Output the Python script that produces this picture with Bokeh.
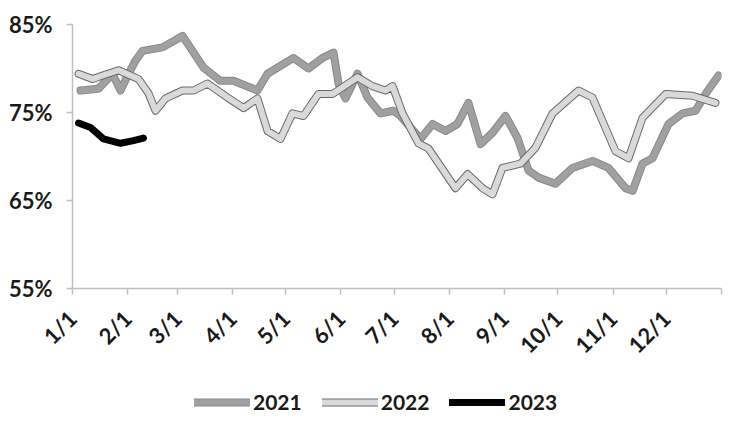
from bokeh.plotting import figure
from bokeh.layouts import column
from bokeh.models import FixedTicker, Legend, LegendItem, Range1d
from bokeh.embed import file_html
from bokeh.resources import INLINE

# Day of year (0 = Jan 1) and percentages
days_2021 = [4.5, 14.6, 22.5, 27, 31.5, 35.4, 39.4, 50.6, 61.9, 73.7, 83.2, 90.5, 104, 109.7,
             124.3, 132.7, 140.6, 146.8, 149.6, 153.5, 160.3, 165.9, 173.2, 180.5, 184.5,
             195.7, 202.5, 209.8, 216.5, 222.7, 229.5, 236.2, 243.5, 250.3, 256.5, 262.1,
             271.6, 281.2, 292.4, 301.4, 311, 315, 320.6, 326.2, 335.2, 343.1, 350.4, 356, 363.3]
vals_2021 = [77.5, 77.7, 79.4, 77.5, 79.4, 80.9, 82.0, 82.4, 83.7, 80.1, 78.6, 78.6, 77.5, 79.4,
             81.2, 80.0, 81.2, 81.8, 78.3, 76.6, 79.4, 76.7, 74.9, 75.2, 74.6,
             72.0, 73.7, 72.9, 73.7, 76.1, 71.4, 72.7, 74.6, 72.1, 68.4, 67.6,
             66.9, 68.7, 69.5, 68.7, 66.4, 66.1, 69.2, 69.8, 73.7, 74.9, 75.2, 77.1, 79.2]

days_2022 = [3.4, 11.2, 16.9, 25.9, 37.1, 42.7, 46.7, 52.3, 61.9, 68.1, 75.9, 87.2, 96.2, 104,
             109.7, 117, 123.7, 129.9, 138.3, 146.2, 150.7, 160.3, 168.7, 176, 180, 185.6,
             194.6, 200.2, 215.4, 222.2, 230.6, 236.2, 241.8, 252, 260.4, 270, 284.6, 292.4,
             305.4, 312.7, 320.6, 333.6, 348.7, 361.6]
vals_2022 = [79.4, 78.8, 79.2, 79.8, 78.8, 77.2, 75.2, 76.6, 77.5, 77.5, 78.3, 76.7, 75.5, 76.6,
             72.9, 72.0, 74.9, 74.6, 77.1, 77.1, 77.7, 79.0, 78.0, 77.5, 78.0, 74.9,
             71.5, 70.9, 66.4, 68.0, 66.4, 65.7, 68.7, 69.2, 71.0, 74.9, 77.5, 76.7,
             70.6, 69.8, 74.4, 77.1, 76.9, 76.1]

days_2023 = [3.4, 10.1, 17.4, 27, 34.3, 39.9]
vals_2023 = [73.8, 73.3, 72.0, 71.5, 71.8, 72.1]

month_starts = [0, 31, 59, 90, 120, 151, 181, 212, 243, 273, 304, 334, 365]
month_labels = ["1/1", "2/1", "3/1", "4/1", "5/1", "6/1", "7/1", "8/1", "9/1", "10/1", "11/1", "12/1", ""]
y_ticks = [55, 65, 75, 85]
y_labels = ["55%", "65%", "75%", "85%"]
series_names = ["2021", "2022", "2023"]
series_days = {"2021": days_2021, "2022": days_2022, "2023": days_2023}
series_vals = {"2021": vals_2021, "2022": vals_2022, "2023": vals_2023}

# series styles: (outline colour, fill colour, outline width, fill width)
styles = {"2021": ("#8a8a8a", "#a0a0a0", 8, 6),
          "2022": ("#6a6a6a", "#d9d9d9", 8, 6),
          "2023": ("#000000", "#000000", 7, 7)}

p = figure(width=727, height=388, output_backend="svg", toolbar_location=None,
           x_range=Range1d(0, 365), y_range=Range1d(55, 85),
           min_border_left=72, min_border_top=24, min_border_right=6, min_border_bottom=100)
p.outline_line_color = None
p.xgrid.grid_line_color = None
p.ygrid.grid_line_color = None

kw = dict(line_join="round", line_cap="round")
for name in series_names:
    oc, fc, ow, fw = styles[name]
    p.line(series_days[name], series_vals[name], line_color=oc, line_width=ow, **kw)
    if name != "2023":
        p.line(series_days[name], series_vals[name], line_color=fc, line_width=fw, **kw)

p.xaxis.ticker = FixedTicker(ticks=month_starts)
p.xaxis.major_label_overrides = {d: l for d, l in zip(month_starts, month_labels)}
p.xaxis.major_label_orientation = 0.785398
p.yaxis.ticker = FixedTicker(ticks=y_ticks)
p.yaxis.major_label_overrides = {t: l for t, l in zip(y_ticks, y_labels)}

for ax in (p.xaxis, p.yaxis):
    ax.axis_line_color = "#bfbfbf"
    ax.axis_line_width = 1.5
    ax.major_tick_line_color = "#bfbfbf"
    ax.major_tick_line_width = 1.5
    ax.major_tick_out = 6
    ax.major_tick_in = 0
    ax.minor_tick_line_color = None
    ax.major_label_text_font = "Lato"
    ax.major_label_text_font_style = "bold"
    ax.major_label_text_color = "#1a1a1a"

p.yaxis.major_label_text_font_size = "22px"
p.yaxis.major_label_standoff = 14
p.xaxis.major_label_text_font_size = "22px"
p.xaxis.major_label_standoff = 20

# legend strip below the chart (its lines lie outside its own ranges, so only the swatches show)
lg = figure(width=727, height=42, output_backend="svg", toolbar_location=None,
            x_axis_type=None, y_axis_type=None, x_range=Range1d(0, 1), y_range=Range1d(0, 1),
            min_border_left=0, min_border_right=0, min_border_top=0, min_border_bottom=0)
lg.outline_line_color = None
lg.xgrid.grid_line_color = None
lg.ygrid.grid_line_color = None
items = []
for name in series_names:
    oc, fc, ow, fw = styles[name]
    rs = [lg.line(series_days[name], series_vals[name], line_color=oc, line_width=ow, line_cap="round")]
    if name != "2023":
        rs.append(lg.line(series_days[name], series_vals[name], line_color=fc, line_width=fw, line_cap="round"))
    items.append(LegendItem(label=name, renderers=rs))

legend = Legend(items=items, orientation="horizontal", location=(122, 16))
legend.label_text_font = "Lato"
legend.label_text_font_style = "bold"
legend.label_text_font_size = "21px"
legend.label_text_color = "#1a1a1a"
legend.glyph_width = 56
legend.glyph_height = 20
legend.label_standoff = 3
legend.spacing = 20
legend.border_line_color = None
legend.background_fill_alpha = 0
legend.margin = 0
legend.padding = 0
lg.add_layout(legend, "center")

open("out.html", "w").write(file_html(column(p, lg, spacing=0), INLINE))
